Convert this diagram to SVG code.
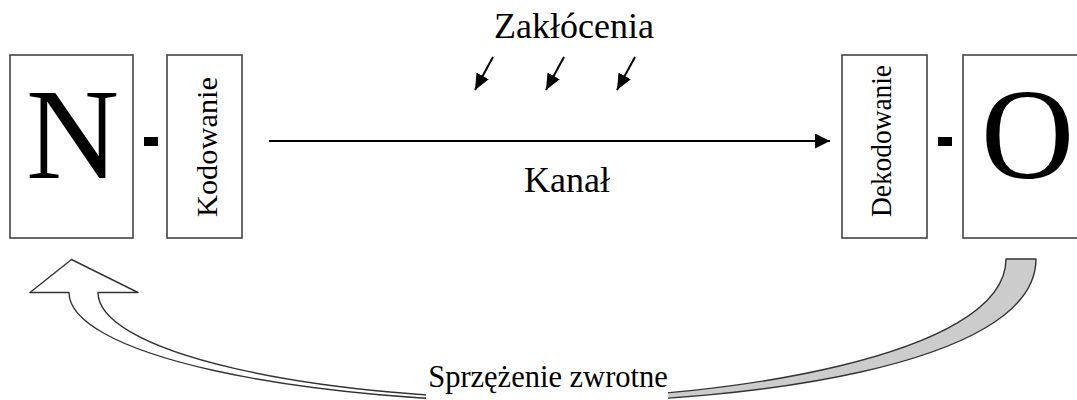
<svg xmlns="http://www.w3.org/2000/svg" width="1077" height="400" viewBox="0 0 1077 400">
  <defs>
    <marker id="ah" markerUnits="userSpaceOnUse" markerWidth="15" markerHeight="15" viewBox="0 0 15 15" refX="15" refY="7.5" orient="auto">
      <path d="M0,0 L15,7.5 L0,15 Z" fill="#000"/>
    </marker>
    <marker id="ahs" markerUnits="userSpaceOnUse" markerWidth="16" markerHeight="14" viewBox="0 0 16 14" refX="16" refY="7" orient="auto">
      <path d="M0,0 L16,7 L0,14 Z" fill="#000"/>
    </marker>
  </defs>
  <style>
    .box { fill: #fff; stroke: #444; stroke-width: 1.6; }
    .t { font-family: "Liberation Serif", "Times New Roman", serif; fill: #000; }
    .big { font-size: 129px; text-anchor: middle; }
    .vt { font-size: 30px; text-anchor: middle; }
    .lbl { font-size: 36px; text-anchor: middle; }
    .line { stroke: #000; stroke-width: 2; fill: none; }
    .fb { stroke: #333; stroke-width: 1.4; stroke-linejoin: round; }
  </style>
  <rect width="1077" height="400" fill="#fff"/>

  <g id="connectors">
    <line class="line" x1="493" y1="57" x2="475" y2="90" marker-end="url(#ahs)"/>
    <line class="line" x1="564" y1="57" x2="546" y2="90" marker-end="url(#ahs)"/>
    <line class="line" x1="635" y1="57" x2="617" y2="90" marker-end="url(#ahs)"/>
    <line class="line" x1="269" y1="141" x2="830" y2="141" marker-end="url(#ah)"/>
    <g id="feedback">
      <path class="fb" fill="#cccccc" d="M1006,259 L1036,259 C1036,369 730,402 560,402 L560,398 C710,398 1006,359 1006,259 Z"/>
      <path class="fb" fill="#fff" d="M69,292.5 A491,110 0 0 0 560,402.5 L560,399.5 A462,107 0 0 1 98,292.5 L138,292.5 L71.5,259.5 L30,292.5 Z"/>
    </g>
  </g>

  <g id="node-N">
    <rect class="box" x="10" y="55" width="123" height="183"/>
    <text class="t big" x="72.5" y="178">N</text>
  </g>
  <rect x="144" y="137" width="14" height="9" fill="#000"/>
  <g id="node-kodowanie">
    <rect class="box" x="167" y="55" width="75" height="183"/>
    <text class="t vt" transform="translate(217,147) rotate(-90)" textLength="140" lengthAdjust="spacingAndGlyphs">Kodowanie</text>
  </g>
  <g id="node-dekodowanie">
    <rect class="box" x="842" y="55" width="85" height="183"/>
    <text class="t vt" transform="translate(891,141) rotate(-90)" textLength="152" lengthAdjust="spacingAndGlyphs">Dekodowanie</text>
  </g>
  <rect x="938" y="137" width="14" height="9" fill="#000"/>
  <g id="node-O">
    <rect class="box" x="963" y="55" width="130" height="183"/>
    <text class="t big" x="1027.5" y="178">O</text>
  </g>

  <g id="labels">
    <text class="t lbl" x="574" y="38">Zakłócenia</text>
    <text class="t lbl" x="567" y="192">Kanał</text>
    <rect x="426" y="358" width="242" height="42" fill="#fff"/>
    <text class="t" x="548" y="387" font-size="30.5" text-anchor="middle">Sprzężenie zwrotne</text>
  </g>
</svg>
